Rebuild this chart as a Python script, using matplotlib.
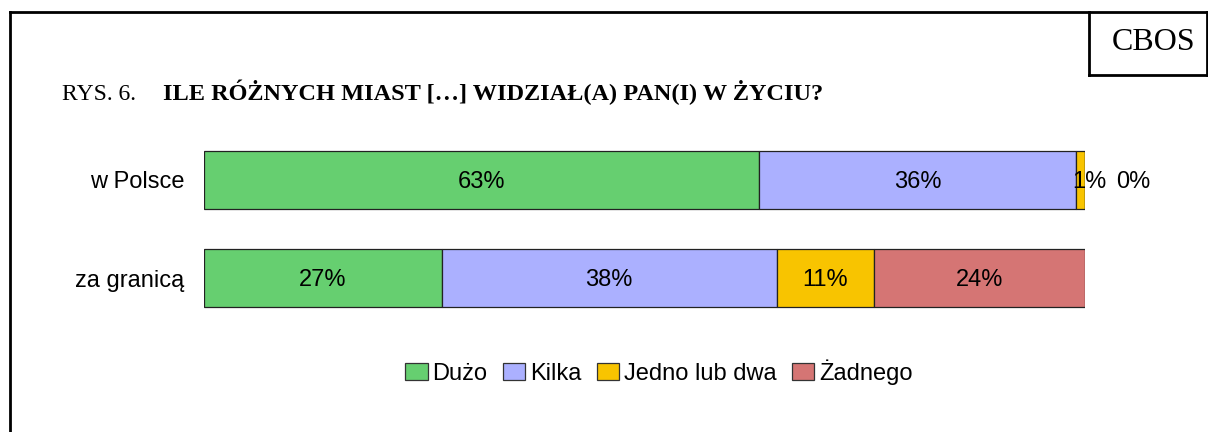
import matplotlib.pyplot as plt
from matplotlib.lines import Line2D

categories = ['w Polsce', 'za granicą']
series = ['Dużo', 'Kilka', 'Jedno lub dwa', 'Żadnego']
values = {
    'Dużo': [63, 27],
    'Kilka': [36, 38],
    'Jedno lub dwa': [1, 11],
    'Żadnego': [0, 24],
}
colors = ['#66cf70', '#abb0ff', '#f8c400', '#d57574']

W, H = 1208, 432
fig = plt.figure(figsize=(W / 100, H / 100), dpi=100)

# axes placed so 0..100% spans x 204..1085 px
ax = fig.add_axes([204 / W, (H - 327) / H, 881 / W, 196 / H])

left = [0, 0]
for name, col in zip(series, colors):
    v = values[name]
    ax.barh(range(len(categories)), v, left=left, height=0.59, color=col,
            edgecolor='#222222', linewidth=0.9)
    for i, val in enumerate(v):
        c = left[i] + val / 2
        if val >= 5:
            ax.text(c, i + 0.02, f'{val}%', ha='center', va='center',
                    fontsize=17, family='Liberation Sans')
        else:
            # small segments: labels pushed to the right like in the original
            off = 1.0 if name == 'Jedno lub dwa' else 5.5
            ax.text(c + off, i + 0.02, f'{val}%', ha='center', va='center',
                    fontsize=17, family='Liberation Sans')
    left = [left[i] + v[i] for i in range(len(v))]

ax.set_xlim(0, 100)
ax.set_ylim(1.5, -0.5)
ax.set_yticks(range(len(categories)))
ax.set_yticklabels(categories, fontsize=17, family='Liberation Sans')
ax.tick_params(axis='y', length=0, pad=14)
ax.set_xticks([])
for s in ax.spines.values():
    s.set_visible(False)

# legend
handles = [plt.Rectangle((0, 0), 1, 1, facecolor=c, edgecolor='#333333', linewidth=0.9)
           for c in colors]
fig.legend(handles, series, loc='center', bbox_to_anchor=(659 / W, (H - 372) / H),
           ncol=4, frameon=False, prop={'family': 'Liberation Sans', 'size': 17},
           handlelength=0.95, handleheight=0.7, handletextpad=0.2, columnspacing=0.65)

# title
fig.text(62 / W, (H - 100) / H, 'RYS. 6.', family='Liberation Serif', fontsize=17,
         va='baseline')
fig.text(163 / W, (H - 100) / H, 'ILE RÓŻNYCH MIAST […] WIDZIAŁ(A) PAN(I) W ŻYCIU?',
         family='Liberation Serif', fontsize=17.5, fontweight='bold', va='baseline')

# frame and CBOS box
lw = 2
fig.add_artist(Line2D([10 / W, 10 / W], [0, (H - 12) / H], color='black', lw=lw))
fig.add_artist(Line2D([10 / W, 1], [(H - 12) / H, (H - 12) / H], color='black', lw=lw))
fig.add_artist(Line2D([1089 / W, 1089 / W], [(H - 12) / H, (H - 75) / H], color='black', lw=lw))
fig.add_artist(Line2D([1089 / W, 1], [(H - 75) / H, (H - 75) / H], color='black', lw=lw))
fig.add_artist(Line2D([1207 / W, 1207 / W], [(H - 12) / H, (H - 75) / H], color='black', lw=lw))
fig.text(1154 / W, (H - 42) / H, 'CBOS', family='Liberation Serif', fontsize=23,
         ha='center', va='center')

fig.savefig('out.png', dpi=100)
